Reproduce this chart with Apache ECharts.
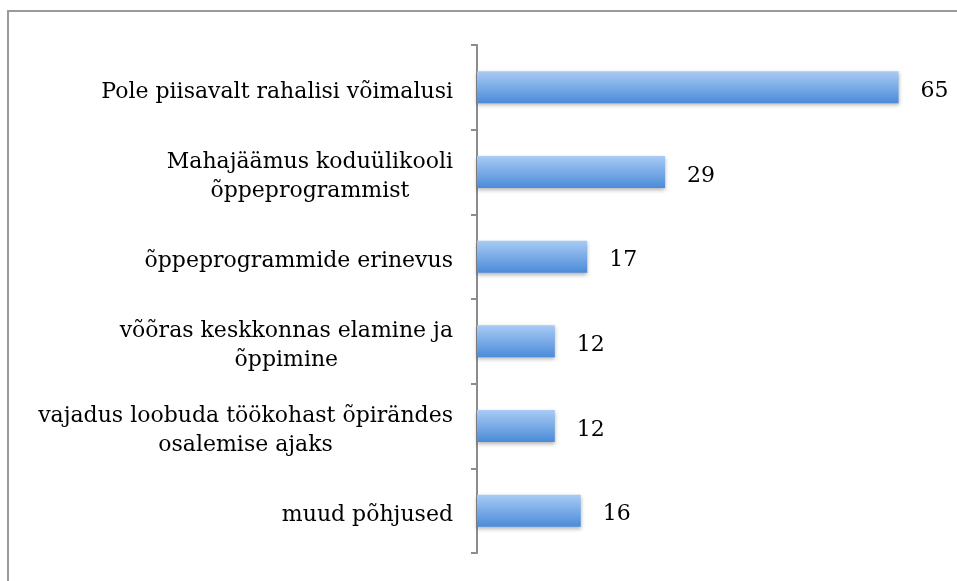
<!DOCTYPE html>
<html>
<head>
<meta charset="utf-8">
<script src="https://cdn.jsdelivr.net/npm/echarts@6/dist/echarts.min.js"></script>
<style>html,body{margin:0;padding:0;background:#fff}#c{width:957px;height:581px}</style>
</head>
<body>
<div id="c"></div>
<script>
const categories = [
  "Pole piisavalt rahalisi võimalusi",
  "Mahajäämus koduülikooli\nõppeprogrammist",
  "õppeprogrammide erinevus",
  "võõras keskkonnas elamine ja\nõppimine",
  "vajadus loobuda töökohast õpirändes\nosalemise ajaks",
  "muud põhjused"
];
const values = [65, 29, 17, 12, 12, 16];

const chart = echarts.init(document.getElementById('c'));
const FONT = '"DejaVu Serif", serif';
chart.setOption({
  animation: false,
  backgroundColor: '#fff',
  graphic: [{
    type: 'rect',
    shape: { x: 8, y: 11, width: 1000, height: 700 },
    style: { fill: 'none', stroke: '#9a9a9a', lineWidth: 2 },
    silent: true
  }],
  grid: { left: 477, right: 26, top: 45, bottom: 28, containLabel: false },
  xAxis: {
    type: 'value', min: 0, max: 70, show: false
  },
  yAxis: {
    type: 'category',
    data: categories,
    inverse: true,
    boundaryGap: true,
    axisLine: { show: true, lineStyle: { color: '#8c8c8c', width: 2 } },
    axisTick: { show: true, inside: false, length: 6, lineStyle: { color: '#8c8c8c', width: 2 } },
    axisLabel: {
      margin: 24,
      align: 'right',
      padding: [9, 0, 0, 0],
      formatter: function (v) {
        return v.split('\n').map(l => '{c|' + l + '}').join('\n');
      },
      rich: {
        c: { align: 'center', fontFamily: FONT, fontSize: 22, color: '#000', lineHeight: 29 }
      }
    },
    splitLine: { show: false }
  },
  series: [{
    type: 'bar',
    data: values,
    barWidth: 32,
    itemStyle: {
      color: new echarts.graphic.LinearGradient(0, 0, 0, 1, [
        { offset: 0, color: '#a9cbf5' },
        { offset: 1, color: '#4a8bd8' }
      ]),
      shadowColor: 'rgba(0,0,0,0.3)',
      shadowBlur: 4,
      shadowOffsetY: 2
    },
    label: {
      show: true,
      position: 'right',
      distance: 22,
      offset: [0, 4],
      fontFamily: FONT,
      fontSize: 22,
      color: '#000'
    }
  }]
});
</script>
</body>
</html>
